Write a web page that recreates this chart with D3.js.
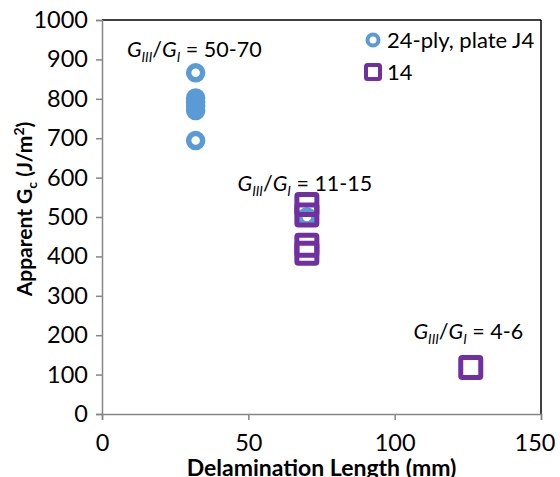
<!DOCTYPE html>
<html>
<head>
<meta charset="utf-8">
<script src="https://cdn.jsdelivr.net/npm/d3@7/dist/d3.min.js"></script>
<style>
  html, body { margin: 0; padding: 0; background: #fff; }
  svg { display: block; }
  text { font-family: Lato, "Noto Sans", sans-serif; fill: #000; }
</style>
</head>
<body>
<script>
// ---- data ----
const seriesNames = ["24-ply, plate J4", "14"];
const circleX = [32, 32, 32, 32, 32, 32, 70];
const circleY = [866, 802, 791, 781, 770, 694, 500];
const squareX = [70, 70, 70, 70, 126];
const squareY = [532, 505, 428, 408, 118];
const xTicks = [0, 50, 100, 150];
const yTicks = [0, 100, 200, 300, 400, 500, 600, 700, 800, 900, 1000];
const annotations = [
  { x: 8.5, y: 905, range: "50-70" },
  { x: 46.3, y: 565, range: "11-15" },
  { x: 106.4, y: 190, range: "4-6" }
];

const W = 560, H = 477;
const mLeft = 102, mRight = 541, mTop = 20, mBottom = 414;
const blue = "#5B9BD5", purple = "#7030A0", axisGray = "#868686";

const svg = d3.select("body").append("svg").attr("width", W).attr("height", H);

const x = d3.scaleLinear().domain([0, 150]).range([mLeft, mRight]);
const y = d3.scaleLinear().domain([0, 1000]).range([mBottom, mTop]);

// frame: top and right borders
svg.append("line").attr("x1", mLeft).attr("x2", mRight).attr("y1", mTop).attr("y2", mTop)
  .attr("stroke", "#000").attr("stroke-width", 1.5);
svg.append("line").attr("x1", mRight).attr("x2", mRight).attr("y1", mTop).attr("y2", mBottom)
  .attr("stroke", "#000").attr("stroke-width", 1.5);

// axes
const yAxis = d3.axisLeft(y).tickValues(yTicks).tickSize(6).tickPadding(8).tickFormat(d3.format("d"));
const gy = svg.append("g").attr("transform", `translate(${mLeft},0)`).call(yAxis);
const xAxis = d3.axisBottom(x).tickValues(xTicks).tickSize(6).tickPadding(14).tickFormat(d3.format("d"));
const gx = svg.append("g").attr("transform", `translate(0,${mBottom})`).call(xAxis);
[gx, gy].forEach(g => {
  g.select(".domain").attr("stroke", axisGray).attr("stroke-width", 1.5);
  g.selectAll(".tick line").attr("stroke", axisGray).attr("stroke-width", 1.5);
  g.selectAll(".tick text").attr("font-family", "Lato, sans-serif").attr("font-size", 23.5).attr("fill", "#000");
});
gy.selectAll(".tick text").attr("x", -14);
// last x label kept inside the window, as in the reference
gx.selectAll(".tick text").filter(d => d === 150).attr("text-anchor", "end").attr("x", 14);

// axis titles
svg.append("text")
  .attr("x", (mLeft + mRight) / 2).attr("y", 476)
  .attr("text-anchor", "middle").attr("font-size", 23).attr("font-weight", "bold")
  .text("Delamination Length (mm)");

const yt = svg.append("text")
  .attr("transform", `translate(32,${(mTop + mBottom) / 2 - 8}) rotate(-90)`)
  .attr("text-anchor", "middle").attr("font-size", 21).attr("font-weight", "bold");
yt.append("tspan").text("Apparent G");
yt.append("tspan").attr("font-size", 14).attr("dy", 5).text("c");
yt.append("tspan").attr("dy", -5).text(" (J/m");
yt.append("tspan").attr("font-size", 14).attr("dy", -8).text("2");
yt.append("tspan").attr("dy", 8).text(")");

// markers
const plot = svg.append("g");
const circleData = circleX.map((d, i) => ({ x: d, y: circleY[i] }));
plot.selectAll("circle.pt").data(circleData).enter().append("circle")
  .attr("class", "pt")
  .attr("cx", d => x(d.x)).attr("cy", d => y(d.y)).attr("r", 7)
  .attr("fill", "none").attr("stroke", blue).attr("stroke-width", 5.5);

const sq = 20;
const squareData = squareX.map((d, i) => ({ x: d, y: squareY[i] }));
plot.selectAll("rect.pt").data(squareData).enter().append("rect")
  .attr("class", "pt")
  .attr("x", d => x(d.x) - sq / 2).attr("y", d => y(d.y) - sq / 2)
  .attr("width", sq).attr("height", sq).attr("rx", 1.5)
  .attr("fill", "none").attr("stroke", purple).attr("stroke-width", 5).attr("stroke-linejoin", "round");

// annotations
annotations.forEach(a => {
  const t = svg.append("text").attr("x", x(a.x)).attr("y", y(a.y)).attr("font-size", 21.5);
  t.append("tspan").attr("font-style", "italic").text("G");
  t.append("tspan").attr("font-style", "italic").attr("font-size", 13.5).attr("dy", 5).text("III");
  t.append("tspan").attr("dy", -5).text("/");
  t.append("tspan").attr("font-style", "italic").text("G");
  t.append("tspan").attr("font-style", "italic").attr("font-size", 13.5).attr("dy", 5).text("I");
  t.append("tspan").attr("dy", -5).text(" = " + a.range);
});

// legend
const lg = svg.append("g");
lg.append("circle").attr("cx", 373).attr("cy", 40).attr("r", 5.5)
  .attr("fill", "none").attr("stroke", blue).attr("stroke-width", 4);
lg.append("text").attr("x", 387).attr("y", 48).attr("font-size", 22).text(seriesNames[0]);
lg.append("rect").attr("x", 366).attr("y", 65).attr("width", 14).attr("height", 14).attr("rx", 1.5)
  .attr("fill", "none").attr("stroke", purple).attr("stroke-width", 4);
lg.append("text").attr("x", 387).attr("y", 80).attr("font-size", 22).text(seriesNames[1]);
</script>
</body>
</html>
